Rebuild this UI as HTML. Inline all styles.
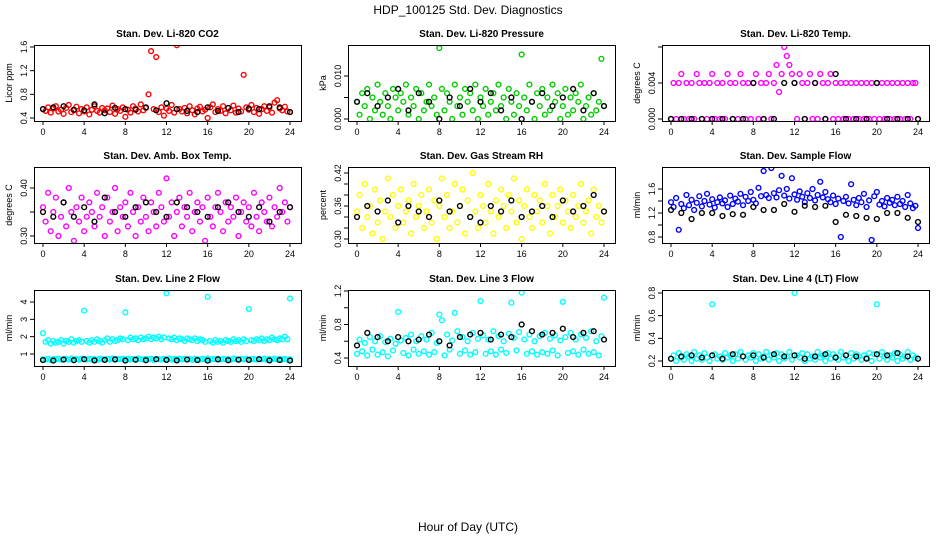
<!DOCTYPE html>
<html><head><meta charset="utf-8"><style>
body{margin:0;background:#fff;}
svg text{font-family:"Liberation Sans",sans-serif;}
</style></head><body>
<svg id="c" width="936" height="540" xmlns="http://www.w3.org/2000/svg">
<rect width="936" height="540" fill="#fff"/>
<text x="468" y="14" font-size="12" text-anchor="middle">HDP_100125  Std. Dev. Diagnostics</text>
<text x="468" y="531" font-size="12" text-anchor="middle">Hour of Day (UTC)</text>
</svg>
<script>
const hours=[];for(let i=0;i<=96;i++)hours.push(i*0.25);
const hoursBlack=[];for(let i=0;i<=24;i++)hoursBlack.push(i);
const xTicks=[0,4,8,12,16,20,24];
const titles=["Stan. Dev. Li-820 CO2","Stan. Dev. Li-820 Pressure","Stan. Dev. Li-820 Temp.","Stan. Dev. Amb. Box Temp.","Stan. Dev. Gas Stream RH","Stan. Dev. Sample Flow","Stan. Dev. Line 2 Flow","Stan. Dev. Line 3 Flow","Stan. Dev. Line 4 (LT) Flow"];
const yTitles=["Licor ppm","kPa","degrees C","degrees C","percent","ml/min","ml/min","ml/min","ml/min"];
const colors=["#ff0000","#00cc00","#ff00ff","#ff00ff","#ffff00","#0000ff","#00ffff","#00ffff","#00ffff"];
const yTicks=[[0.4,0.8,1.2,1.6],[0,0.005,0.010],[0,0.004,0.008],[0.30,0.35,0.40],[0.30,0.32,0.34,0.36,0.38,0.40,0.42],[0.8,1.0,1.2,1.4,1.6],[1,2,3,4],[0.4,0.6,0.8,1.0,1.2],[0.2,0.4,0.6,0.8]];
const yTickLabels=[["0.4","0.8","1.2","1.6"],["0.000","","0.010"],["0.000","0.004",""],["0.30","","0.40"],["0.30","","","0.36","","","0.42"],["0.8","","1.2","","1.6"],["1","2","3","4"],["0.4","","0.8","","1.2"],["0.2","0.4","0.6","0.8"]];
const yDomain=[[0.4,1.6],[0,0.010],[0,0.004],[0.30,0.40],[0.30,0.42],[0.8,1.6],[1,4],[0.4,1.2],[0.2,0.8]];

const co2=[0.55,0.52,0.58,0.49,0.56,0.60,0.51,0.54,0.47,0.57,0.62,0.50,0.53,0.59,0.48,0.55,0.51,0.58,0.46,0.54,0.60,0.52,0.49,0.57,0.53,0.56,0.50,0.61,0.47,0.55,0.52,0.58,0.42,0.54,0.49,0.60,0.56,0.51,0.63,0.53,0.57,0.80,1.53,0.55,1.43,0.50,0.58,0.44,0.56,0.52,0.62,0.49,1.63,0.55,0.51,0.57,0.48,0.60,0.53,0.46,0.56,0.59,0.51,0.54,0.40,0.58,0.63,0.50,0.55,0.52,0.60,0.48,0.57,0.53,0.61,0.49,0.56,0.51,1.13,0.58,0.54,0.62,0.50,0.57,0.47,0.55,0.60,0.52,0.58,0.49,0.66,0.70,0.56,0.53,0.59,0.51,0.50];
const co2Black=[0.55,0.58,0.60,0.54,0.53,0.63,0.48,0.57,0.55,0.54,0.58,0.53,0.65,0.55,0.52,0.50,0.58,0.52,0.57,0.50,0.56,0.55,0.60,0.58,0.50];
const pres=[0.004,0.001,0.006,0.003,0.007,0.000,0.005,0.002,0.008,0.004,0.001,0.006,0.003,0.000,0.007,0.005,0.002,0.006,0.004,0.008,0.001,0.005,0.003,0.007,0.000,0.006,0.002,0.004,0.008,0.003,0.005,0.001,0.0165,0.007,0.002,0.006,0.004,0.000,0.008,0.003,0.005,0.001,0.007,0.004,0.006,0.002,0.008,0.000,0.005,0.003,0.007,0.001,0.004,0.006,0.002,0.008,0.003,0.005,0.000,0.007,0.004,0.001,0.006,0.003,0.015,0.005,0.002,0.008,0.004,0.000,0.006,0.003,0.007,0.001,0.005,0.002,0.008,0.004,0.006,0.000,0.003,0.007,0.001,0.005,0.002,0.006,0.004,0.008,0.000,0.003,0.005,0.001,0.006,0.002,0.004,0.014,0.003];
const presBlack=[0.004,0.006,0.003,0.005,0.007,0.002,0.006,0.004,0.000,0.005,0.003,0.007,0.004,0.006,0.002,0.005,0.000,0.004,0.006,0.003,0.005,0.007,0.002,0.006,0.003];
const temp=[0,0.004,0,0.004,0.005,0,0.004,0,0.004,0,0.005,0.004,0,0.004,0,0.004,0.005,0,0.004,0,0.004,0,0.005,0.004,0,0.004,0,0.005,0.004,0,0.004,0,0.004,0.005,0,0.004,0,0.004,0.005,0,0.004,0.006,0.003,0.005,0.008,0.007,0.006,0.005,0.004,0,0.005,0.004,0,0.004,0.005,0,0.004,0,0.005,0.004,0,0.004,0.005,0,0.004,0,0.004,0,0.004,0,0.004,0,0.004,0,0.004,0,0.004,0,0.004,0,0.004,0,0.004,0,0.004,0,0.004,0,0.004,0,0.004,0,0.004,0,0.004,0.004,0];
const tempBlack=[0,0,0,0,0,0,0,0,0.004,0,0,0.004,0.004,0,0.004,0,0.005,0,0,0,0.004,0,0,0,0];
const box=[0.36,0.33,0.39,0.31,0.35,0.38,0.30,0.34,0.37,0.32,0.40,0.35,0.29,0.36,0.33,0.38,0.31,0.34,0.37,0.35,0.32,0.39,0.34,0.36,0.30,0.38,0.33,0.35,0.40,0.31,0.36,0.34,0.37,0.32,0.39,0.35,0.30,0.36,0.33,0.38,0.34,0.31,0.37,0.35,0.32,0.39,0.36,0.33,0.42,0.34,0.37,0.30,0.35,0.38,0.32,0.36,0.34,0.39,0.31,0.35,0.37,0.33,0.36,0.29,0.38,0.34,0.32,0.36,0.39,0.35,0.31,0.37,0.33,0.36,0.34,0.38,0.30,0.35,0.37,0.33,0.36,0.32,0.39,0.34,0.31,0.37,0.35,0.33,0.38,0.32,0.36,0.34,0.40,0.35,0.37,0.33,0.36];
const boxBlack=[0.35,0.34,0.37,0.34,0.36,0.33,0.38,0.35,0.34,0.36,0.37,0.35,0.34,0.37,0.36,0.35,0.34,0.36,0.37,0.35,0.34,0.36,0.33,0.35,0.36];
const rh=[0.35,0.38,0.32,0.40,0.34,0.36,0.31,0.39,0.33,0.37,0.30,0.35,0.41,0.34,0.38,0.32,0.36,0.39,0.33,0.35,0.37,0.31,0.40,0.34,0.36,0.38,0.32,0.35,0.39,0.33,0.37,0.30,0.36,0.41,0.34,0.38,0.32,0.35,0.40,0.33,0.36,0.39,0.31,0.37,0.34,0.42,0.35,0.32,0.38,0.36,0.33,0.40,0.35,0.31,0.37,0.34,0.39,0.36,0.32,0.38,0.35,0.41,0.33,0.37,0.30,0.36,0.39,0.34,0.32,0.38,0.35,0.37,0.33,0.40,0.36,0.31,0.38,0.34,0.36,0.39,0.33,0.37,0.35,0.32,0.38,0.34,0.36,0.40,0.33,0.35,0.37,0.31,0.39,0.34,0.36,0.33,0.35];
const rhBlack=[0.34,0.36,0.35,0.37,0.33,0.36,0.35,0.34,0.37,0.35,0.36,0.34,0.33,0.36,0.35,0.37,0.34,0.35,0.36,0.34,0.37,0.35,0.36,0.38,0.35];
const sample=[1.38,1.30,1.45,0.92,1.35,1.28,1.50,1.33,1.42,1.25,1.37,1.48,1.31,1.40,1.52,1.34,1.43,1.29,1.38,1.46,1.36,1.41,1.30,1.49,1.35,1.44,1.39,1.52,1.33,1.47,1.40,1.55,1.42,1.36,1.62,1.48,1.90,1.50,1.45,1.95,1.53,1.46,1.58,1.82,1.49,1.60,1.44,1.78,1.51,1.42,1.56,1.47,1.38,1.53,1.45,1.60,1.41,1.50,1.72,1.46,1.55,1.43,1.38,1.49,1.35,1.44,0.80,1.40,1.47,1.36,1.68,1.42,1.33,1.45,1.38,1.52,1.30,1.41,0.75,1.48,1.55,1.34,1.40,1.31,1.45,1.37,1.42,1.33,1.47,1.35,1.40,1.30,1.50,1.36,1.28,1.32,0.95];
const sampleBlack=[1.25,1.20,1.10,1.20,1.20,1.15,1.18,1.17,1.30,1.25,1.25,1.35,1.22,1.32,1.30,1.32,1.05,1.17,1.15,1.12,1.10,1.20,1.20,1.12,1.05];
const line2=[2.20,1.70,1.80,1.60,1.75,1.65,1.70,1.80,1.60,1.75,1.70,1.85,1.65,1.75,1.80,1.70,3.50,1.75,1.65,1.80,1.70,1.85,1.75,1.65,1.80,1.90,1.70,1.85,1.75,1.80,1.90,1.85,3.40,1.80,1.95,1.85,1.90,1.80,1.95,1.85,1.90,2.00,1.85,1.95,1.90,2.00,1.85,1.95,4.50,1.90,1.85,1.95,1.80,1.90,1.85,1.75,1.90,1.85,1.80,1.90,1.75,1.85,1.80,1.70,4.30,1.75,1.65,1.80,1.70,1.75,1.65,1.80,1.75,1.70,1.85,1.75,1.80,1.70,1.85,1.75,3.60,1.80,1.75,1.85,1.80,1.90,1.75,1.85,1.80,1.95,1.85,1.80,1.90,1.85,2.00,1.85,4.20];
const line2Low=[0.70,0.68,0.72,0.66,0.71,0.69,0.73,0.67,0.70,0.72,0.68,0.74,0.69,0.71,0.67,0.73,0.70,0.68,0.72,0.69,0.71,0.66,0.73,0.70,0.68,0.72,0.69,0.74,0.67,0.71,0.70,0.73,0.68,0.72,0.69,0.71,0.67,0.74,0.70,0.68,0.72,0.69,0.73,0.66,0.71,0.70,0.68,0.72,0.69,0.74,0.67,0.71,0.70,0.73,0.68,0.72,0.69,0.71,0.66,0.73,0.70,0.68,0.72,0.69,0.74,0.67,0.71,0.70,0.73,0.68,0.72,0.69,0.71,0.67,0.74,0.70,0.68,0.72,0.69,0.73,0.66,0.71,0.70,0.68,0.72,0.69,0.74,0.67,0.71,0.70,0.73,0.68,0.72,0.69,0.71,0.67,0.70];
const line2Black=[0.65,0.62,0.68,0.64,0.70,0.63,0.66,0.69,0.62,0.67,0.64,0.70,0.66,0.63,0.68,0.65,0.62,0.69,0.64,0.67,0.66,0.70,0.63,0.65,0.62];
const line3=[0.45,0.62,0.48,0.58,0.43,0.65,0.50,0.60,0.44,0.66,0.47,0.59,0.42,0.63,0.49,0.57,0.95,0.61,0.46,0.64,0.43,0.68,0.50,0.60,0.45,0.66,0.48,0.62,0.44,0.70,0.47,0.58,0.92,0.85,0.43,0.68,0.50,0.61,0.94,0.72,0.45,0.65,0.49,0.60,0.44,0.70,0.47,0.63,1.08,0.67,0.45,0.62,0.48,0.72,0.44,0.66,0.50,0.60,0.46,0.69,1.06,0.64,0.49,0.71,1.18,0.62,0.45,0.68,0.48,0.60,0.44,0.66,0.47,0.70,0.45,0.63,0.49,0.67,0.43,0.61,1.07,0.65,0.46,0.70,0.48,0.62,0.44,0.68,0.50,0.64,0.45,0.72,0.47,0.60,0.43,0.66,1.12];
const line3Black=[0.55,0.70,0.65,0.60,0.65,0.60,0.62,0.68,0.60,0.55,0.65,0.68,0.70,0.62,0.68,0.65,0.80,0.72,0.68,0.70,0.75,0.65,0.70,0.72,0.62];
const line4=[0.22,0.25,0.20,0.27,0.23,0.21,0.26,0.24,0.20,0.28,0.22,0.25,0.21,0.27,0.23,0.20,0.70,0.26,0.22,0.24,0.21,0.27,0.23,0.25,0.20,0.26,0.22,0.28,0.24,0.21,0.25,0.23,0.27,0.20,0.26,0.22,0.24,0.28,0.21,0.25,0.23,0.27,0.20,0.26,0.22,0.24,0.28,0.21,0.80,0.25,0.23,0.27,0.20,0.26,0.22,0.24,0.21,0.28,0.23,0.25,0.20,0.27,0.22,0.26,0.24,0.21,0.28,0.23,0.25,0.20,0.27,0.22,0.26,0.24,0.21,0.25,0.23,0.27,0.20,0.26,0.70,0.22,0.28,0.24,0.21,0.25,0.23,0.27,0.20,0.26,0.22,0.24,0.28,0.21,0.25,0.23,0.22];
const line4Black=[0.22,0.24,0.25,0.23,0.25,0.22,0.26,0.24,0.25,0.23,0.26,0.24,0.25,0.22,0.24,0.26,0.23,0.25,0.24,0.22,0.26,0.25,0.27,0.24,0.22];

const series=[[co2],[pres],[temp],[box],[rh],[sample],[line2,line2Low],[line3],[line4]];
const seriesBlack=[co2Black,presBlack,tempBlack,boxBlack,rhBlack,sampleBlack,line2Black,line3Black,line4Black];
const yPix=[[118,47],[119,76],[119,83],[236,188],[239,173],[237,189],[354,302],[358,291],[361,293]];
const colX=[34,348,662], rowY=[45,167,290], W=267, H=76;
const svg=document.getElementById('c');
const NS='http://www.w3.org/2000/svg';
function mk(t,a,p){const e=document.createElementNS(NS,t);for(const k in a)e.setAttribute(k,a[k]);(p||svg).appendChild(e);return e;}
for(let p=0;p<9;p++){
  const cx=colX[p%3], ry=rowY[Math.floor(p/3)];
  const g=mk('g',{});
  
  
  const xs=h=>cx+9+h*(247/24);
  const d=yDomain[p],yp=yPix[p];
  const ys=v=>yp[0]+(v-d[0])*(yp[1]-yp[0])/(d[1]-d[0]);
  const clip=mk('clipPath',{id:'cl'+p},g);mk('rect',{x:cx,y:ry,width:W,height:H},clip);
  const t=mk('text',{x:cx+W/2,y:ry-8,'font-size':10,'font-weight':'bold','text-anchor':'middle'},g);t.textContent=titles[p];
  
  
  const yt=mk('text',{x:0,y:0,'font-size':9,'text-anchor':'middle',transform:`translate(${cx-22},${ry+H/2}) rotate(-90)`},g);yt.textContent=yTitles[p];
  
  
  const pts=mk('g',{'clip-path':`url(#cl${p})`,fill:'none','stroke-width':1.4},g);
  
  
  series[p].forEach(arr=>arr.forEach((v,i)=>{const c=mk('circle',{cx:xs(hours[i]),cy:ys(v),r:2.4,stroke:colors[p]},pts);
    
    }));
  seriesBlack[p].forEach((v,i)=>{const c=mk('circle',{cx:xs(hoursBlack[i]),cy:ys(v),r:2.4,stroke:'#000'},pts);
    
    });
  const fr=mk('rect',{x:cx+.5,y:ry+.5,width:W,height:H,fill:'none',stroke:'#000'},g);
  
  
  xTicks.forEach(h=>{const x=xs(h);mk('line',{x1:x,x2:x,y1:ry+H,y2:ry+H+4,stroke:'#000'},g);
    const l=mk('text',{x:x,y:ry+H+14,'font-size':9,'text-anchor':'middle'},g);l.textContent=h;
    
    });
  yTicks[p].forEach((v,i)=>{const y=ys(v);if(y<ry-1||y>ry+H+1)return;mk('line',{x1:cx,x2:cx-4,y1:y,y2:y,stroke:'#000'},g);
    const l=mk('text',{x:0,y:0,'font-size':9,'text-anchor':'middle',transform:`translate(${cx-7},${y}) rotate(-90)`},g);l.textContent=yTickLabels[p][i];
    
    });
}
</script>
</body></html>
